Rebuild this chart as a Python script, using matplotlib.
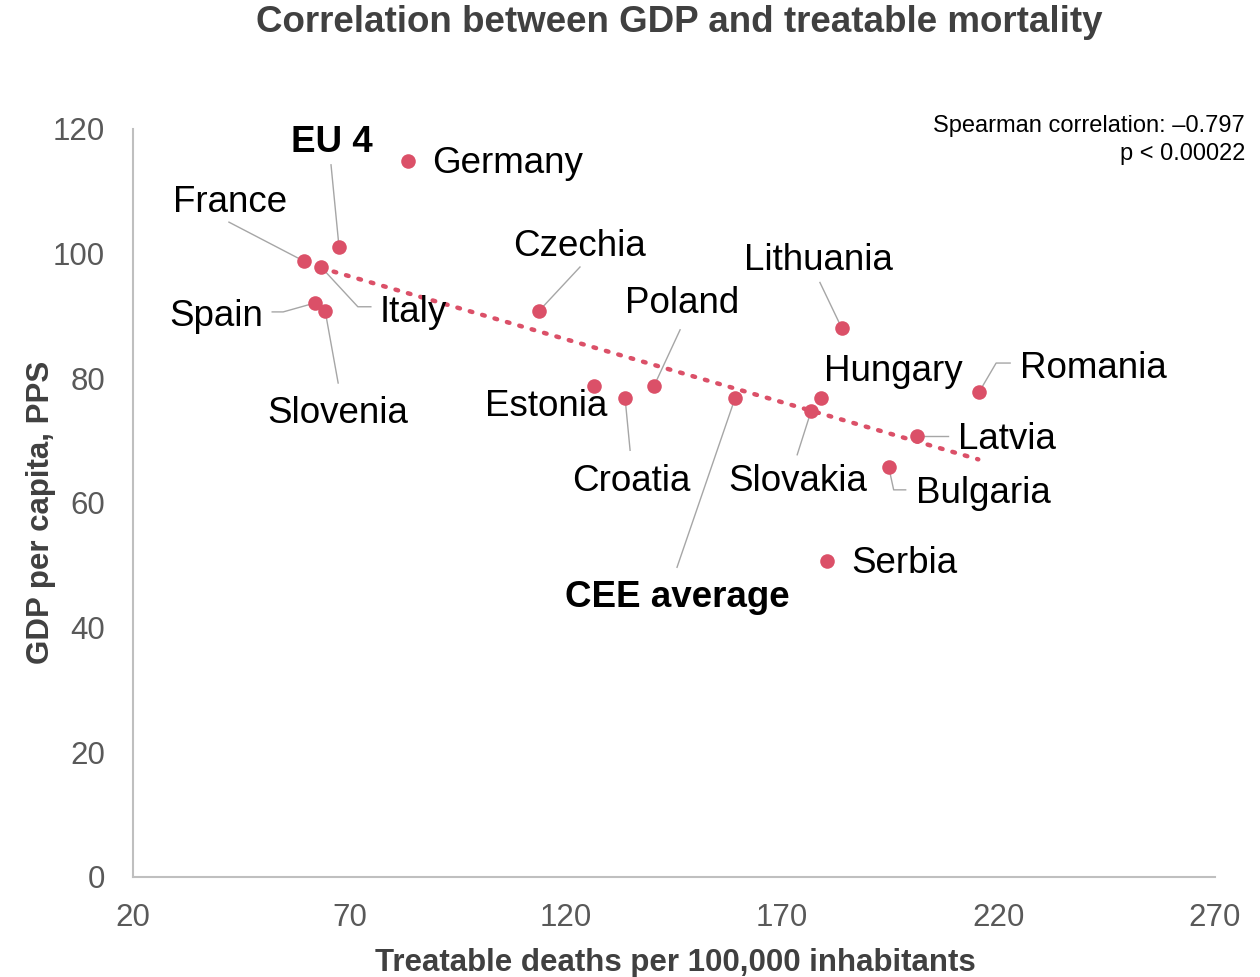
import matplotlib
matplotlib.use("Agg")
import matplotlib.pyplot as plt
from matplotlib.transforms import IdentityTransform

plt.rcParams['font.family'] = ['Liberation Sans', 'DejaVu Sans']

# -----------------------------------------------------------
# data: treatable deaths per 100,000 vs GDP per capita (PPS)
# -----------------------------------------------------------

countries = ["Germany", "EU 4", "France", "Italy", "Spain", "Slovenia",
             "Czechia", "Lithuania", "Poland", "Estonia", "Croatia",
             "CEE average", "Hungary", "Slovakia", "Romania", "Latvia",
             "Bulgaria", "Serbia"]
deaths = [83.5, 67.6, 59.5, 63.4, 62.1, 64.4,
          113.8, 183.8, 140.4, 126.6, 133.7,
          159.1, 179.0, 176.7, 215.5, 201.2,
          194.6, 180.4]
gdp = [114.9, 101.1, 98.8, 97.9, 92.1, 90.8,
       90.8, 88.0, 78.8, 78.8, 76.8,
       76.8, 76.8, 74.8, 77.8, 70.7,
       65.8, 50.7]

# linear trend line end points
trend_x = [63.5, 215.3]
trend_y = [97.7, 67.0]

spearman_text = "Spearman correlation: \u20130.797\np < 0.00022"
bold_labels = ["EU 4", "CEE average"]

# -----------------------------------------------------------
# label placement (pixel offsets from the dot, y up)
# label: (dx, dy, ha, leader path)
# -----------------------------------------------------------

label_pos = {
    "Germany":     (24, 0, "left", None),
    "EU 4":        (-7, 107, "center", [(0, 0), (-8, 82)]),
    "France":      (-74, 62, "center", [(0, 0), (-75, 39)]),
    "Italy":       (59, -43, "left", [(0, 0), (37, -40), (50, -40)]),
    "Spain":       (-52, -11, "right", [(0, 0), (-32, -9), (-43, -9)]),
    "Slovenia":    (13, -99, "center", [(0, 0), (13, -72)]),
    "Czechia":     (41, 68, "center", [(0, 0), (41, 44)]),
    "Lithuania":   (-23, 71, "center", [(0, 0), (-22, 46)]),
    "Poland":      (28, 85, "center", [(0, 0), (26, 56)]),
    "Estonia":     (13, -18, "right", None),
    "Croatia":     (6, -80, "center", [(0, 0), (5, -52)]),
    "CEE average": (-58, -196, "center", [(0, 0), (-58, -169)]),
    "Hungary":     (72, 30, "center", None),
    "Slovakia":    (-13, -68, "center", [(0, 0), (-14, -44)]),
    "Romania":     (41, 27, "left", [(0, 0), (17, 29), (31, 29)]),
    "Latvia":      (41, 0, "left", [(0, 0), (31, 0)]),
    "Bulgaria":    (27, -24, "left", [(0, 0), (5, -23), (17, -23)]),
    "Serbia":      (24, 0, "left", None),
}
text_shift = -3   # nudge label text down to sit level with the dots

dot_color = '#DB5068'
grey_text = '#595959'
dark_text = '#404040'

fig = plt.figure(figsize=(12.6, 9.77), dpi=100)
ax = fig.add_axes([133/1260, 1-877/977, 1082/1260, 748/977])

ax.set_xlim(20, 270)
ax.set_ylim(0, 120)
ax.set_xticks([20, 70, 120, 170, 220, 270])
ax.set_yticks([0, 20, 40, 60, 80, 100, 120])
ax.tick_params(length=0, labelsize=22.5, colors=grey_text)
ax.tick_params(axis='x', pad=19)
ax.tick_params(axis='y', pad=20)
for s in ['top', 'right']:
    ax.spines[s].set_visible(False)
for s in ['left', 'bottom']:
    ax.spines[s].set_color('#BFBFBF')
    ax.spines[s].set_linewidth(1.5)

ax.plot(trend_x, trend_y, linestyle=(0, (0.6, 2.3)), color=dot_color,
        linewidth=3.2, dash_capstyle='round', zorder=2)
ax.scatter(deaths, gdp, s=110, color=dot_color, zorder=4, linewidths=0)

# leader lines and labels, drawn in pixel space
for name, x, y in zip(countries, deaths, gdp):
    dx, dy, ha, path = label_pos[name]
    px, py = ax.transData.transform((x, y))
    if path is not None:
        xs = [px + p[0] for p in path]
        ys = [py + p[1] for p in path]
        ax.plot(xs, ys, transform=IdentityTransform(), color='#A6A6A6',
                linewidth=1.0, zorder=3)
    weight = 'bold' if name in bold_labels else 'normal'
    ax.annotate(name, (x, y), xytext=(dx, dy + text_shift),
                textcoords='offset pixels', ha=ha, va='center',
                fontsize=26.5, fontweight=weight, color='black', zorder=5)

ax.text(1245/1260, 1-140/977, spearman_text, transform=fig.transFigure,
        ha='right', va='center', fontsize=17, linespacing=1.4,
        color='black')

ax.set_xlabel("Treatable deaths per 100,000 inhabitants", fontsize=22.5,
              fontweight='bold', color=dark_text)
ax.xaxis.set_label_coords((675-133)/1082, (877-948)/748)
ax.set_ylabel("GDP per capita, PPS", fontsize=22.5, fontweight='bold',
              color=dark_text)
ax.yaxis.set_label_coords((56-133)/1082, (877-512)/748)

fig.text(679/1260, 1-23/977, "Correlation between GDP and treatable mortality",
         ha='center', va='center', fontsize=26.5, fontweight='bold',
         color=dark_text)

fig.savefig("out.png", dpi=100)
